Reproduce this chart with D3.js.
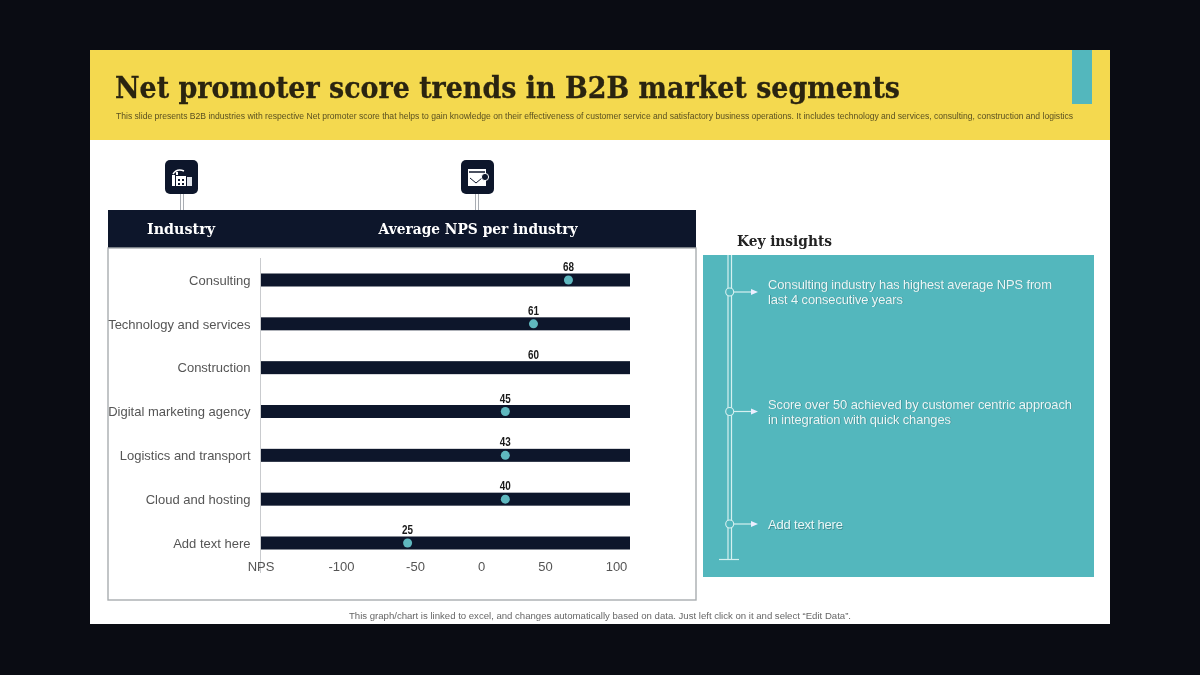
<!DOCTYPE html>
<html><head><meta charset="utf-8">
<style>html,body{margin:0;padding:0;background:#0a0c13;overflow:hidden}svg{display:block;filter:blur(.4px)}</style>
<script src="https://cdn.jsdelivr.net/npm/d3@7/dist/d3.min.js"></script></head><body>
<svg id="c" width="1200" height="675"></svg>
<script>
const categories=["Consulting","Technology and services","Construction","Digital marketing agency","Logistics and transport","Cloud and hosting","Add text here"];
const scores=[68,61,60,45,43,40,25];
const axisPositions=[66.5,41,41,19,19,19,-55];
const hiddenMarkers=["Construction"];
const tickValues=[-159,-100,-50,0,50,100];
const tickLabels=["NPS","-100","-50","0","50","100"];
const insights=[["Consulting industry has highest average NPS from","last 4 consecutive years"],["Score over 50 achieved by customer centric approach","in integration with quick changes"],["Add text here"]];
const title="Net promoter score trends in B2B market segments";
const subtitle="This slide presents B2B industries with respective Net promoter score that helps to gain knowledge on their effectiveness of customer service and satisfactory business operations. It includes technology and services, consulting, construction and logistics";
const footer="This graph/chart is linked to excel,  and changes automatically based on data. Just left click on it and select \u201CEdit Data\u201D.";

const NAVY="#0d162b",TEAL="#53b7bd",YEL="#f4d94f",SANS="'Liberation Sans',Arial,sans-serif",SERIF="'DejaVu Serif',Georgia,serif";
const svg=d3.select("#c");
const rect=(x,y,w,h,f,o={})=>{const r=svg.append("rect").attr("x",x).attr("y",y).attr("width",w).attr("height",h).attr("fill",f);Object.entries(o).forEach(([k,v])=>r.attr(k,v));return r;};
const line=(x1,y1,x2,y2,s,w=1)=>svg.append("line").attr("x1",x1).attr("y1",y1).attr("x2",x2).attr("y2",y2).attr("stroke",s).attr("stroke-width",w);
const text=(x,y,t,size,fill,fam,o={})=>{const e=svg.append("text").attr("x",x).attr("y",y).attr("font-size",size).attr("fill",fill).attr("font-family",fam).text(t);Object.entries(o).forEach(([k,v])=>e.attr(k,v));return e;};

rect(90,50,1020,574,"#fff");
rect(90,50,1020,90,YEL);
rect(1072,50,20,54,TEAL);
text(115,98,title,29,"#2a2410",SERIF,{"font-weight":700,stroke:"#2a2410","stroke-width":.3,textLength:785,lengthAdjust:"spacingAndGlyphs"});
text(116,119,subtitle,8.6,"#5a5020",SANS,{textLength:957,lengthAdjust:"spacing"});

// header icons
[[165,182],[461,477]].forEach(([x,c])=>{
  line(c-1.5,194,c-1.5,210,"#a9adb3",1);line(c+1.5,194,c+1.5,210,"#a9adb3",1);
  rect(x,160,33,34,NAVY,{rx:5});
});
rect(172,175,3,11,"#fff");rect(176,172,2,3,"#fff");rect(176,176,10,10,"#fff");rect(187,177,5,9,"#dfe3ea");
rect(178,179,2,2,NAVY);rect(182,179,2,2,NAVY);rect(178,183,2,2,NAVY);rect(182,183,2,2,NAVY);
svg.append("path").attr("d","M173 174 Q177 168 184 171").attr("fill","none").attr("stroke","#fff").attr("stroke-width",1.5);
rect(468,169,18,17,"#fff");rect(469,171,16,2,NAVY,{opacity:.75});
svg.append("path").attr("d","M470 178 L476 183 L482 178").attr("fill","none").attr("stroke",NAVY).attr("stroke-width",1);
svg.append("circle").attr("cx",485).attr("cy",177).attr("r",3.6).attr("fill",NAVY).attr("stroke","#fff").attr("stroke-width",1);

rect(108,210,588,38,NAVY);
rect(108,248,588,352,"none",{stroke:"#a9adb0","stroke-width":1.4});
text(181,234,"Industry",14,"#fff",SERIF,{"text-anchor":"middle","font-weight":700,textLength:68,lengthAdjust:"spacingAndGlyphs"});
text(478,234,"Average NPS per industry",14,"#fff",SERIF,{"text-anchor":"middle","font-weight":700,textLength:199,lengthAdjust:"spacingAndGlyphs"});

// chart
const x=d3.scaleLinear().domain([-159,-100,-50,0,50,100,110]).range([260.5,341,415,481,545,616,630]);
const y=d3.scalePoint().domain(categories).range([280,543]);
const g=svg.append("g");
g.selectAll("rect.bar").data(categories).join("rect").attr("class","bar").attr("x",x(-159)).attr("y",d=>y(d)-6.5).attr("width",x(110)-x(-159)).attr("height",13).attr("fill",NAVY);
const yAxis=d3.axisLeft(y).tickSize(0).tickPadding(10);
const ya=svg.append("g").attr("transform",`translate(${x(-159)},0)`).call(yAxis);
ya.select(".domain").remove();
ya.selectAll("text").attr("font-family",SANS).attr("font-size",13).attr("fill","#555");
line(260.5,258,260.5,573,"#c9cbce",1);
const xAxis=d3.axisBottom(x).tickValues(tickValues).tickFormat((d,i)=>tickLabels[i]).tickSize(0).tickPadding(0);
const xa=svg.append("g").attr("transform","translate(0,562)").call(xAxis);
xa.select(".domain").remove();
xa.selectAll("text").attr("font-family",SANS).attr("font-size",13).attr("fill","#555");
const rows=categories.map((c,i)=>({c,s:scores[i],p:axisPositions[i]}));
g.selectAll("circle.m").data(rows.filter(d=>!hiddenMarkers.includes(d.c))).join("circle").attr("class","m").attr("cx",d=>x(d.p)).attr("cy",d=>y(d.c)).attr("r",4.5).attr("fill","#5fb8bf");
g.selectAll("text.v").data(rows).join("text").attr("class","v").attr("x",d=>x(d.p)).attr("y",d=>y(d.c)-9).attr("text-anchor","middle").attr("font-family",SANS).attr("font-size",12).attr("font-weight",700).attr("fill","#1a1a1a").attr("textLength",11).attr("lengthAdjust","spacingAndGlyphs").text(d=>d.s);

// insights
text(737,246,"Key insights",14,"#222",SERIF,{"font-weight":700,textLength:95,lengthAdjust:"spacingAndGlyphs"});
rect(703,255,391,322,TEAL);
const LT="#d5f0f0";
line(728,255,728,559,LT,1.2);line(731.5,255,731.5,559,LT,1.2);line(719,559.5,739,559.5,LT,1.2);
const nodeY=[292,411.5,524];
const ty=[[288.5,303.5],[408.5,423.5],[529]];
insights.forEach((ls,i)=>{
  svg.append("circle").attr("cx",729.7).attr("cy",nodeY[i]).attr("r",4).attr("fill",TEAL).attr("stroke",LT).attr("stroke-width",1.1);
  line(734,nodeY[i],752,nodeY[i],LT,1.2);
  svg.append("path").attr("d",`M751 ${nodeY[i]-3}L758 ${nodeY[i]}L751 ${nodeY[i]+3}Z`).attr("fill","#eef");
  ls.forEach((l,j)=>{
    const w=[[284,135],[304,183],[75]][i][j];
    text(768,ty[i][j],l,13,"#eaf7f7",SANS,{textLength:w,lengthAdjust:"spacing",style:"text-shadow:.7px .7px 0 #3f8b90"});
  });
});
text(600,619,footer,9.6,"#666",SANS,{"text-anchor":"middle",textLength:502,lengthAdjust:"spacing"});
</script></body></html>
